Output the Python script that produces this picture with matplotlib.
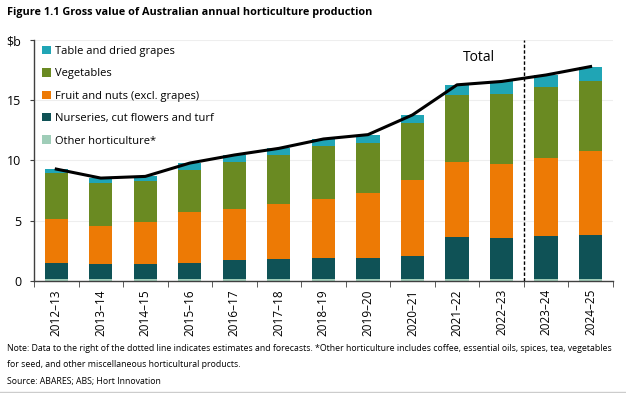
import numpy as np
import matplotlib
matplotlib.use("Agg")
import matplotlib.pyplot as plt

plt.rcParams['font.family'] = ['Open Sans', 'DejaVu Sans']

# Data ($b)
years = ["2012–13", "2013–14", "2014–15", "2015–16", "2016–17", "2017–18", "2018–19",
         "2019–20", "2020–21", "2021–22", "2022–23", "2023–24", "2024–25"]
other = [0.15, 0.15, 0.15, 0.15, 0.15, 0.15, 0.15, 0.15, 0.15, 0.15, 0.15, 0.15, 0.15]
nurseries = [1.30, 1.22, 1.22, 1.30, 1.57, 1.63, 1.72, 1.77, 1.91, 3.47, 3.43, 3.55, 3.65]
fruit = [3.65, 3.19, 3.55, 4.25, 4.23, 4.62, 4.96, 5.41, 6.27, 6.28, 6.12, 6.52, 6.95]
vegetables = [3.85, 3.54, 3.33, 3.52, 3.95, 4.08, 4.39, 4.12, 4.77, 5.55, 5.86, 5.86, 5.89]
grapes = [0.33, 0.43, 0.42, 0.56, 0.55, 0.52, 0.56, 0.69, 0.68, 0.83, 1.00, 1.02, 1.16]

series = [
    ("Other horticulture*", other, "#9fcdb8"),
    ("Nurseries, cut flowers and turf", nurseries, "#0f5256"),
    ("Fruit and nuts (excl. grapes)", fruit, "#ed7a05"),
    ("Vegetables", vegetables, "#6a8a22"),
    ("Table and dried grapes", grapes, "#20a5b5"),
]

fig = plt.figure(figsize=(6.26, 3.93), dpi=100)
ax = fig.add_axes([0.0543, 0.2857, 0.9247, 0.6123])

x = np.arange(len(years))
bottom = np.zeros(len(years))
handles = []
for name, vals, col in series:
    b = ax.bar(x, vals, width=0.52, bottom=bottom, color=col, label=name, zorder=2)
    handles.append(b)
    bottom += np.array(vals)

# Total line
ax.plot(x, bottom, color="black", lw=2.2, zorder=3)
ax.text(9.5, 18.55, "Total", ha="center", va="center", fontsize=10)

# forecast divider
ax.axvline(10.5, color="black", ls=(0, (2.5, 1.5)), lw=1.0, zorder=4)

ax.set_xlim(-0.5, len(years) - 0.5)
ax.set_ylim(0, 20)
ax.set_yticks([0, 5, 10, 15, 20])
ax.set_yticklabels(["0", "5", "10", "15", "$b"], fontsize=9)
ax.yaxis.grid(True, color="#eeeeee", lw=0.8, zorder=0)
ax.set_axisbelow(True)

ax.set_xticks(x)
ax.set_xticklabels(years, rotation=90, fontsize=8.5)
ax.tick_params(axis="x", length=0, pad=6)
ax.set_xticks(np.arange(-0.5, len(years)), minor=True)
ax.tick_params(axis="x", which="minor", length=4, color="#404040")
ax.tick_params(axis="y", length=3, color="#404040", pad=6)

for s in ["top", "right"]:
    ax.spines[s].set_visible(False)
for s in ["left", "bottom"]:
    ax.spines[s].set_color("#404040")
    ax.spines[s].set_linewidth(1.0)

leg = ax.legend(handles[::-1], [s[0] for s in series][::-1], loc="upper left",
                bbox_to_anchor=(0.005, 1.0), frameon=False, fontsize=8.0,
                handlelength=0.8, handleheight=0.8, handletextpad=0.3,
                labelspacing=1.02, borderaxespad=0.1)

fig.text(0.011, 0.967, "Figure 1.1 Gross value of Australian annual horticulture production",
         fontsize=7.8, fontweight="bold", va="center")
fig.text(0.011, 0.114, "Note: Data to the right of the dotted line indicates estimates and forecasts. "
         "*Other horticulture includes coffee, essential oils, spices, tea, vegetables",
         fontsize=6.3, va="center")
fig.text(0.011, 0.073, "for seed, and other miscellaneous horticultural products.",
         fontsize=6.3, va="center")
fig.text(0.011, 0.030, "Source: ABARES; ABS; Hort Innovation", fontsize=6.3, va="center")
fig.add_artist(plt.Line2D([0.0, 1.0], [0.003, 0.003], color="#cccccc", lw=1.0))

fig.savefig("out.png", dpi=100)
